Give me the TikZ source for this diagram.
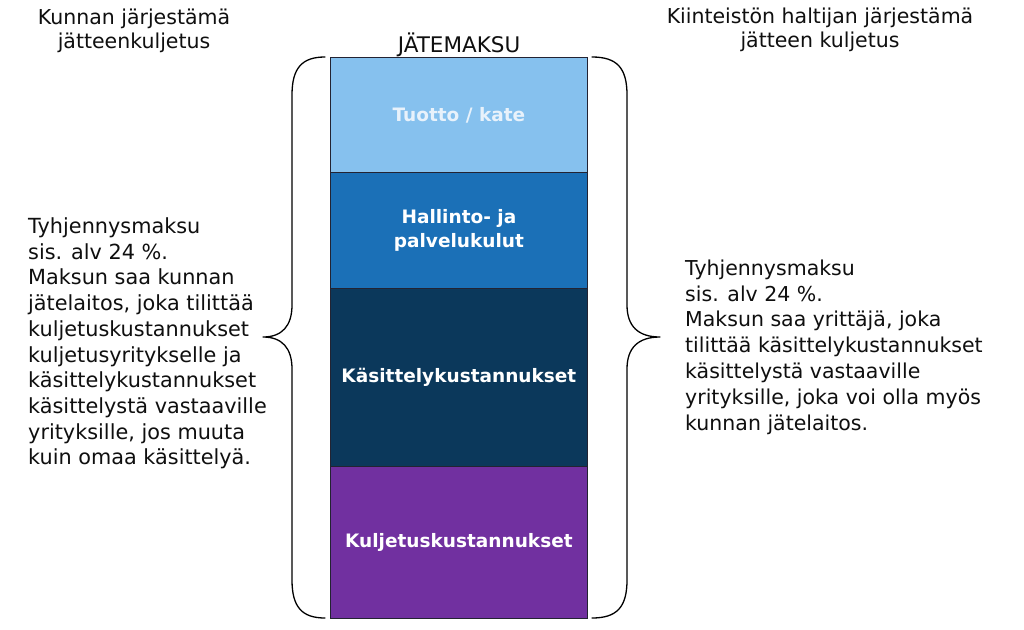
\documentclass[tikz,border=0pt]{standalone}
\usepackage{fontspec}
\setmainfont{DejaVu Sans}
\definecolor{lightseg}{RGB}{134,193,238}
\definecolor{midseg}{RGB}{27,112,183}
\definecolor{darkseg}{RGB}{11,56,91}
\definecolor{purpseg}{RGB}{113,48,160}
\definecolor{edgecol}{RGB}{35,35,50}
\definecolor{txt}{RGB}{15,15,15}
\definecolor{paletxt}{RGB}{232,242,251}
\tikzset{
  seg/.style={draw=edgecol, line width=0.8pt, anchor=north west, minimum width=257pt, inner sep=0pt,
    text=white, align=center, font=\fontsize{18.5}{24}\selectfont\bfseries},
  bodytext/.style={anchor=north west, inner sep=0pt, align=left, text=txt},
  headtext/.style={anchor=north, inner sep=0pt, align=center, text=txt, font=\fontsize{20.5}{24}\selectfont},
  bracestyle/.style={draw=black, line width=1.3pt, line cap=round, line join=round}
}
\begin{document}
\begin{tikzpicture}[x=1pt, y=-1pt]
\useasboundingbox[fill=white] (0,0) rectangle (1024,629);

% header texts
\node[headtext] (hl) at (134,8.5) {Kunnan järjestämä\\jätteenkuljetus};
\node[headtext] (hr) at (820,7.5) {Kiinteistön haltijan järjestämä\\jätteen kuljetus};
\node[inner sep=0pt, anchor=base, text=txt, font=\fontsize{21.5}{24}\selectfont] (title) at (459,52) {JÄTEMAKSU};

% stacked segments
\node[seg, fill=lightseg, minimum height=115pt, text=paletxt] (s1) at (330,57) {Tuotto / kate};
\node[seg, fill=midseg, minimum height=116pt] (s2) at (330,172) {Hallinto- ja\\palvelukulut};
\node[seg, fill=darkseg, minimum height=178pt] (s3) at (330,288) {Käsittelykustannukset};
\node[seg, fill=purpseg, minimum height=152pt] (s4) at (330,466) {Kuljetuskustannukset};

% left brace
\coordinate (lt) at (325,57);
\coordinate (lb) at (325,618);
\coordinate (ltip) at (263,337);
\draw[bracestyle] (lt) .. controls (302,57) and (292,68) .. (292,95) -- (292,305)
  .. controls (292,326) and (282,337) .. (ltip)
  .. controls (282,337) and (292,348) .. (292,369) -- (292,580)
  .. controls (292,607) and (302,618) .. (lb);

% right brace
\coordinate (rt) at (592,57);
\coordinate (rb) at (592,618);
\coordinate (rtip) at (660,337);
\draw[bracestyle] (rt) .. controls (617,57) and (627,68) .. (627,95) -- (627,305)
  .. controls (627,326) and (638,337) .. (rtip)
  .. controls (638,337) and (627,348) .. (627,369) -- (627,580)
  .. controls (627,607) and (617,618) .. (rb);

% body texts
\node[bodytext, font=\fontsize{20.8}{25.7}\selectfont] (lefttext) at (28,217.5) {Tyhjennysmaksu\\sis. alv 24 \%.\\Maksun saa kunnan\\jätelaitos, joka tilittää\\kuljetuskustannukset\\kuljetusyritykselle ja\\käsittelykustannukset\\käsittelystä vastaaville\\yrityksille, jos muuta\\kuin omaa käsittelyä.};
\node[bodytext, font=\fontsize{20.5}{25.8}\selectfont] (righttext) at (685,259.5) {Tyhjennysmaksu\\sis. alv 24 \%.\\Maksun saa yrittäjä, joka\\tilittää käsittelykustannukset\\käsittelystä vastaaville\\yrityksille, joka voi olla myös\\kunnan jätelaitos.};
\end{tikzpicture}
\end{document}
